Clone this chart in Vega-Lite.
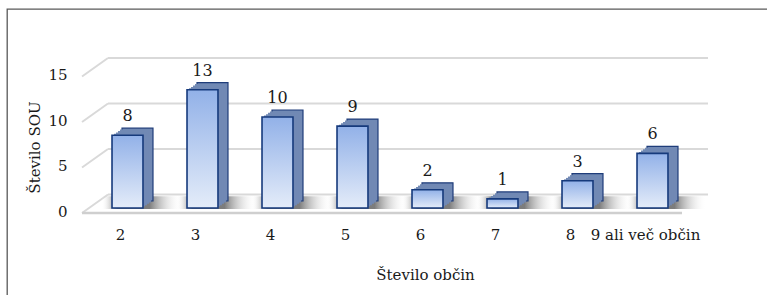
{
  "$schema": "https://vega.github.io/schema/vega-lite/v6.json",
  "width": 760,
  "height": 286,
  "autosize": {"type": "none"},
  "padding": {"left": 7, "top": 9, "right": 0, "bottom": 0},
  "background": "white",
  "datasets": {
    "bars": [
      {"k": "2", "n": 8},
      {"k": "3", "n": 13},
      {"k": "4", "n": 10},
      {"k": "5", "n": 9},
      {"k": "6", "n": 2},
      {"k": "7", "n": 1},
      {"k": "8", "n": 3},
      {"k": "9 ali več občin", "n": 6}
    ],
    "grid": [{"v": 0}, {"v": 5}, {"v": 10}, {"v": 15}]
  },
  "layer": [
    {
      "data": {"name": "grid"},
      "mark": {"type": "rule", "color": "#d9d9d9", "strokeWidth": 2, "xOffset": -19.5, "x2Offset": 55.5, "yOffset": -13.5},
      "encoding": {
        "x": {"datum": "2", "type": "nominal",
          "scale": {"domain": ["2", "3", "4", "5", "6", "7", "8", "9 ali več občin"], "range": [83, 683], "paddingInner": 0.587, "paddingOuter": 0.2935},
          "axis": {"title": "Število občin", "orient": "bottom", "offset": -86, "domain": false, "ticks": false, "tickSize": 0, "labelPadding": 18, "labelOffset": -7, "labelFontSize": 15, "labelColor": "#1a1a1a", "labelAngle": 0, "titleFontSize": 15, "titleFontWeight": "normal", "titleColor": "#1a1a1a", "titleX": 418, "titleY": 70, "titleBaseline": "alphabetic", "titleAlign": "center", "grid": false}},
        "x2": {"datum": "9 ali več občin"},
        "y": {"field": "v", "type": "quantitative",
          "scale": {"domain": [0, 15], "range": [199, 62.5], "nice": false, "zero": true},
          "axis": {"title": "Število SOU", "orient": "left", "offset": -83, "values": [0, 5, 10, 15], "domain": false, "ticks": false, "tickSize": 0, "labelPadding": 23, "labelOffset": 3, "labelFontSize": 15, "labelColor": "#1a1a1a", "titleFontSize": 15, "titleFontWeight": "normal", "titleColor": "#1a1a1a", "titleX": -56, "titleY": 138, "titleAlign": "center", "titleBaseline": "middle", "titleAngle": -90, "grid": false}}
      }
    },
    {
      "data": {"name": "grid"},
      "mark": {"type": "rule", "color": "#d9d9d9", "strokeWidth": 2, "xOffset": -45.5, "x2Offset": -19.5, "yOffset": 5, "y2Offset": -13.5},
      "encoding": {
        "x": {"datum": "2", "type": "nominal"},
        "x2": {"datum": "2"},
        "y": {"field": "v", "type": "quantitative"},
        "y2": {"field": "v"}
      }
    },
    {
      "data": {"name": "grid"},
      "transform": [{"filter": "datum.v == 0"}],
      "mark": {"type": "rule", "color": "#cfcfcf", "strokeWidth": 2.5, "xOffset": -45.5, "x2Offset": 29.5, "yOffset": 5},
      "encoding": {
        "x": {"datum": "2", "type": "nominal"},
        "x2": {"datum": "9 ali več občin"},
        "y": {"field": "v", "type": "quantitative"}
      }
    },
    {
      "data": {"name": "bars"},
      "mark": {"type": "bar", "width": 80, "xOffset": 14, "yOffset": 1,
        "fill": {"gradient": "linear", "x1": 0, "y1": 0, "x2": 1, "y2": 0,
          "stops": [{"offset": 0, "color": "rgba(255,255,255,0)"}, {"offset": 0.2, "color": "rgba(70,70,70,0.75)"}, {"offset": 0.6, "color": "rgba(70,70,70,0.7)"}, {"offset": 1, "color": "rgba(255,255,255,0)"}]}},
      "encoding": {
        "x": {"field": "k", "type": "nominal"},
        "y": {"datum": 0, "type": "quantitative"},
        "y2": {"datum": 1.3}
      }
    },
    {
      "data": {"name": "bars"},
      "mark": {"type": "bar", "xOffset": 10, "x2Offset": 10, "yOffset": -7, "y2Offset": -7, "fill": "#7189b4", "stroke": "#1f3d7a", "strokeWidth": 1.2},
      "encoding": {"x": {"field": "k", "type": "nominal"}, "y": {"field": "n", "type": "quantitative"}}
    },
    {
      "data": {"name": "bars"},
      "mark": {"type": "bar", "xOffset": 8, "x2Offset": 8, "yOffset": -5.6, "y2Offset": -5.6, "fill": "#7189b4"},
      "encoding": {"x": {"field": "k", "type": "nominal"}, "y": {"field": "n", "type": "quantitative"}}
    },
    {
      "data": {"name": "bars"},
      "mark": {"type": "bar", "xOffset": 6, "x2Offset": 6, "yOffset": -4.2, "y2Offset": -4.2, "fill": "#7189b4"},
      "encoding": {"x": {"field": "k", "type": "nominal"}, "y": {"field": "n", "type": "quantitative"}}
    },
    {
      "data": {"name": "bars"},
      "mark": {"type": "bar", "xOffset": 4, "x2Offset": 4, "yOffset": -2.8, "y2Offset": -2.8, "fill": "#7189b4"},
      "encoding": {"x": {"field": "k", "type": "nominal"}, "y": {"field": "n", "type": "quantitative"}}
    },
    {
      "data": {"name": "bars"},
      "mark": {"type": "bar", "xOffset": 2, "x2Offset": 2, "yOffset": -1.4, "y2Offset": -1.4, "fill": "#7189b4"},
      "encoding": {"x": {"field": "k", "type": "nominal"}, "y": {"field": "n", "type": "quantitative"}}
    },
    {
      "data": {"name": "bars"},
      "mark": {"type": "bar", "stroke": "#163a7c", "strokeWidth": 1.6,
        "fill": {"gradient": "linear", "x1": 0, "y1": 0, "x2": 0, "y2": 1,
          "stops": [{"offset": 0, "color": "#92b1e8"}, {"offset": 1, "color": "#e4ecf9"}]}},
      "encoding": {"x": {"field": "k", "type": "nominal"}, "y": {"field": "n", "type": "quantitative"}}
    },
    {
      "data": {"name": "bars"},
      "mark": {"type": "text", "dy": -14, "baseline": "alphabetic", "fontSize": 16, "color": "#1a1a1a"},
      "encoding": {"x": {"field": "k", "type": "nominal"}, "y": {"field": "n", "type": "quantitative"}, "text": {"field": "n", "type": "quantitative"}}
    }
  ],
  "config": {
    "font": "DejaVu Serif",
    "axis": {"labelFont": "DejaVu Serif", "titleFont": "DejaVu Serif"},
    "text": {"font": "DejaVu Serif"},
    "view": {"stroke": "#595959", "strokeWidth": 1.3, "strokeDash": [760, 1046, 300]}
  }
}
